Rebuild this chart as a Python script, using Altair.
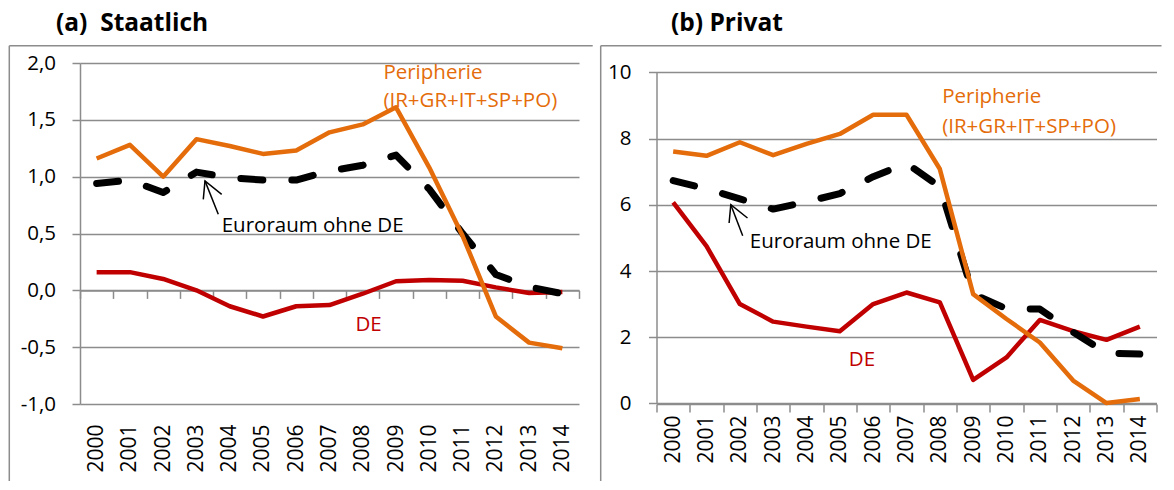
import altair as alt
import pandas as pd

# ---------------- data ----------------
years = list(range(2000, 2015))

# (a) Staatlich
staat_peripherie = [1.16, 1.28, 1.00, 1.33, 1.27, 1.20, 1.23, 1.39, 1.46, 1.61, 1.08, 0.48, -0.23, -0.46, -0.51]
staat_euroraum = [0.94, 0.97, 0.86, 1.04, 0.99, 0.97, 0.97, 1.05, 1.10, 1.19, 0.89, 0.50, 0.14, 0.03, -0.03]
staat_de = [0.16, 0.16, 0.10, 0.00, -0.14, -0.23, -0.14, -0.13, -0.03, 0.08, 0.09, 0.085, 0.026, -0.023, -0.015]

# (b) Privat
privat_peripherie = [7.61, 7.48, 7.89, 7.50, 7.84, 8.14, 8.72, 8.72, 7.08, 3.30, 2.55, 1.84, 0.69, 0.01, 0.13]
privat_euroraum = [6.73, 6.48, 6.18, 5.87, 6.09, 6.34, 6.85, 7.25, 6.55, 3.30, 2.86, 2.85, 2.15, 1.52, 1.49]
privat_de = [6.07, 4.75, 3.00, 2.47, 2.32, 2.18, 3.00, 3.35, 3.05, 0.71, 1.39, 2.52, 2.18, 1.92, 2.32]

staat_ticks = [-1.0, -0.5, 0.0, 0.5, 1.0, 1.5, 2.0]
privat_ticks = [0, 2, 4, 6, 8, 10]

# annotation labels (anchored in data coordinates)
label_texts = ["Peripherie", "(IR+GR+IT+SP+PO)", "Euroraum ohne DE", "DE"]
staat_label_x = [2008.62, 2008.62, 2003.76, 2007.78]
staat_label_y = [1.859, 1.611, 0.51, -0.354]
privat_label_x = [2008.07, 2008.07, 2002.30, 2005.27]
privat_label_y = [9.09, 8.16, 4.70, 1.14]

# arrows (wing - tip - wing, tail - tip)
arrow_seg = [0, 0, 0, 1, 1]
arrow_ord = [0, 1, 2, 0, 1]
staat_arrow_x = [2003.206, 2003.257, 2003.759, 2003.657, 2003.257]
staat_arrow_y = [0.800, 0.963, 0.844, 0.670, 0.963]
privat_arrow_x = [2001.678, 2001.729, 2002.230, 2002.086, 2001.729]
privat_arrow_y = [5.451, 6.003, 5.602, 5.066, 6.003]

# ---------------- style ----------------
ORANGE = "#E46C0A"
RED = "#C00000"
BLACK = "#000000"
GRID = "#8C8C8C"
FONT = "Open Sans"
label_colors = [ORANGE, ORANGE, BLACK, RED]

ONE = alt.Data(values=[{"k": 1}])


def panel(peri, euro, de, lab_x, lab_y, arr_x, arr_y, yscale, yaxis,
          tick_offset, label_pad, title, title_x, box_left, box_right, width):
    xs = alt.Scale(domain=[1999.5, 2014.5], nice=False, zero=False)
    label_axis = alt.Axis(values=years, format="d", labelAngle=-90, ticks=False,
                          tickSize=0, domain=False, grid=False, labelPadding=label_pad,
                          labelFont=FONT, labelFontSize=21, labelColor="black",
                          labelFlush=False, labelOverlap=False, title=None,
                          orient="bottom")
    tick_axis = alt.Axis(values=[1999.5 + i for i in range(16)], labels=False,
                         ticks=True, tickSize=8, tickWidth=1.5, tickColor=GRID,
                         domain=True, domainColor=GRID, domainWidth=1.5,
                         grid=False, offset=tick_offset, title=None, orient="bottom")

    df = pd.DataFrame({"year": years, "peri": peri, "euro": euro, "de": de})

    def xe(field):
        return alt.X(f"{field}:Q", scale=xs, axis=label_axis)

    def ye(field):
        return alt.Y(f"{field}:Q", scale=yscale, axis=yaxis)

    base = alt.Chart(df)
    red = base.mark_line(color=RED, strokeWidth=4.5, strokeJoin="round").encode(
        x=xe("year"), y=ye("de"))
    black = base.mark_line(color=BLACK, strokeWidth=7, strokeDash=[22, 29],
                           strokeCap="round", strokeJoin="round").encode(
        x=xe("year"), y=ye("euro"))
    orange = base.mark_line(color=ORANGE, strokeWidth=4.5, strokeJoin="round").encode(
        x=xe("year"), y=ye("peri"))

    ann = pd.DataFrame({"x": lab_x, "y": lab_y, "text": label_texts, "color": label_colors})
    texts = alt.Chart(ann).mark_text(align="left", baseline="alphabetic", font=FONT,
                                     fontSize=20.5).encode(
        x=xe("x"), y=ye("y"), text="text:N", color=alt.Color("color:N", scale=None))

    arr = pd.DataFrame({"x": arr_x, "y": arr_y, "seg": arrow_seg, "ord": arrow_ord})
    arrows = alt.Chart(arr).mark_line(color=BLACK, strokeWidth=1.5).encode(
        x=xe("x"), y=ye("y"), detail="seg:N", order="ord:Q")

    ttl = alt.Chart(ONE).mark_text(text=title, align="left", baseline="alphabetic",
                                   font=FONT, fontSize=24.5, fontWeight="bold",
                                   color="black").encode(
        x=alt.value(title_x), y=alt.value(-32))

    box_l = alt.Chart(ONE).mark_rule(color=GRID, strokeWidth=1.5).encode(
        x=alt.value(box_left), y=alt.value(-17.3), y2=alt.value(418))
    box_t = alt.Chart(ONE).mark_rule(color=GRID, strokeWidth=1.5).encode(
        x=alt.value(box_left), x2=alt.value(box_right), y=alt.value(-17.3))
    decor = [box_l, box_t]
    if box_right < width:
        decor.append(alt.Chart(ONE).mark_rule(color=GRID, strokeWidth=1.5).encode(
            x=alt.value(box_right), y=alt.value(-17.3), y2=alt.value(418)))

    inner = alt.layer(*decor, red, black, orange, texts, arrows, ttl)

    tick_layer = alt.Chart(pd.DataFrame({"year": years})).mark_point(opacity=0).encode(
        x=alt.X("year:Q", scale=xs, axis=tick_axis))

    return alt.layer(inner, tick_layer).resolve_axis(x="independent").properties(
        width=width, height=341)


staat_yaxis = alt.Axis(values=staat_ticks,
                       labelExpr="(datum.value < 0 ? '-' : '') + replace(format(abs(datum.value), '.1f'), '.', ',')",
                       tickSize=8, tickColor=GRID, tickWidth=1.5, domainColor=GRID,
                       domainWidth=1.5, gridColor=GRID, gridWidth=1.5, labelFont=FONT,
                       labelFontSize=20.5, labelColor="black", labelPadding=16.5, title=None)
privat_yaxis = alt.Axis(values=privat_ticks, format="d",
                        tickSize=8, tickColor=GRID, tickWidth=1.5, domainColor=GRID,
                        domainWidth=1.5, gridColor=GRID, gridWidth=1.5, labelFont=FONT,
                        labelFontSize=20.5, labelColor="black", labelPadding=17.5, title=None)

left = panel(staat_peripherie, staat_euroraum, staat_de, staat_label_x, staat_label_y,
             staat_arrow_x, staat_arrow_y,
             alt.Scale(domain=[-1, 2], nice=False, zero=False), staat_yaxis,
             -113.6, 20, "(a)\u00a0 Staatlich", -24, -70.7, 512.7, 499)

right = panel(privat_peripherie, privat_euroraum, privat_de, privat_label_x, privat_label_y,
              privat_arrow_x, privat_arrow_y,
              alt.Scale(domain=[0, 10], range=[340.4, 9.4], nice=False, zero=False),
              privat_yaxis, 0, 11, "(b) Privat", 14.5, -55.8, 505, 500)

# invisible frame anchor so that the plot areas land where the reference has them
anchor = alt.Chart(ONE).mark_rect(opacity=0).encode(
    x=alt.value(-72), x2=alt.value(0), y=alt.value(-54.3), y2=alt.value(0))

left = alt.layer(left, anchor)

chart = alt.hconcat(left, right, spacing=77.5, bounds="flush").properties(
    padding=0, background="white").configure_view(strokeWidth=0)

chart.save("out.html", embed_options={"renderer": "svg", "actions": False})
